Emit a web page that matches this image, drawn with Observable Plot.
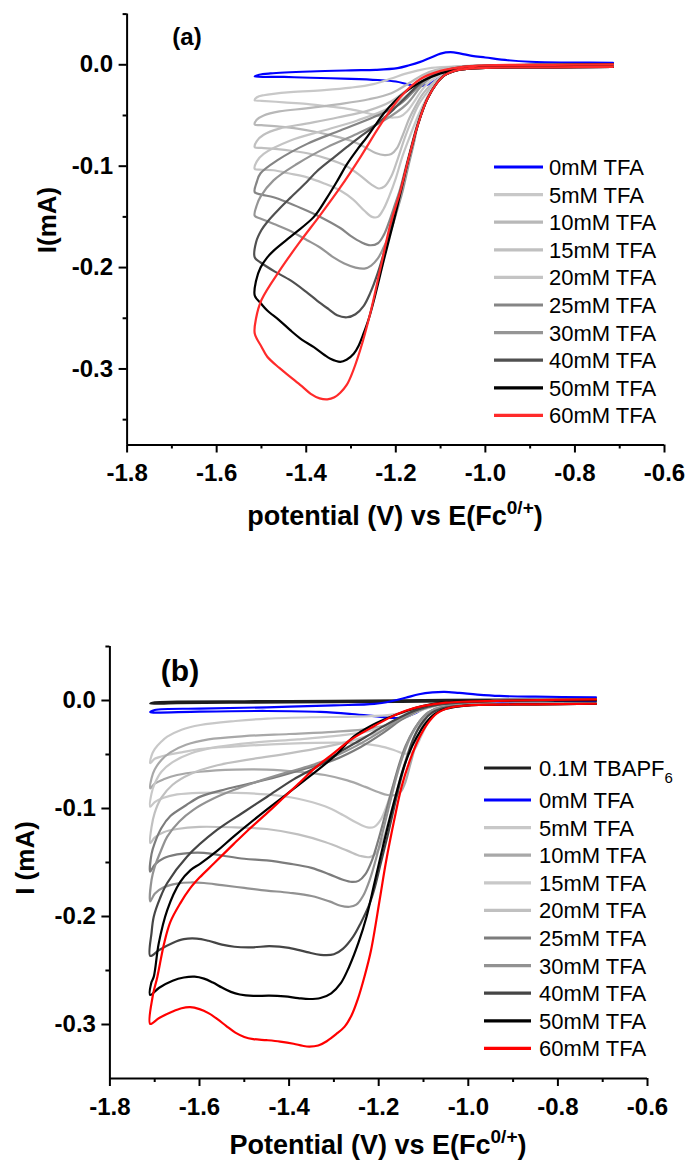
<!DOCTYPE html>
<html><head><meta charset="utf-8">
<script src="https://cdn.jsdelivr.net/npm/d3@7"></script>
<script src="https://cdn.jsdelivr.net/npm/@observablehq/plot@0.6"></script>
<style>
html,body{margin:0;padding:0;background:#fff;}
#wrap{position:relative;width:688px;height:1162px;overflow:hidden;background:#fff;}
#wrap svg{position:absolute;left:0;}
</style></head><body><div id="wrap"></div>
<script>
// ---------- tick values ----------
const xMajor = [-1.8,-1.6,-1.4,-1.2,-1.0,-0.8,-0.6];
const xMinor = [-1.7,-1.5,-1.3,-1.1,-0.9,-0.7];
const yMajor = [0,-0.1,-0.2,-0.3];
const yMinorA = [0.05,-0.05,-0.15,-0.25,-0.35];
const yMinorB = [0.05,-0.05,-0.15,-0.25];

// ---------- legend labels / colours ----------
const labelsA = ["0mM TFA","5mM TFA","10mM TFA","15mM TFA","20mM TFA","25mM TFA","30mM TFA","40mM TFA","50mM TFA","60mM TFA"];
const colorsA = ["#0000ff","#c8c8c8","#b8b8b8","#c0c0c0","#c4c4c4","#858585","#959595","#505050","#000000","#ff2a2a"];
const labelsB = ["0.1M TBAPF6","0mM TFA","5mM TFA","10mM TFA","15mM TFA","20mM TFA","25mM TFA","30mM TFA","40mM TFA","50mM TFA","60mM TFA"];
const colorsB = ["#1e1e1e","#0000ff","#c8c8c8","#a8a8a8","#c8c8c8","#c0c0c0","#7c7c7c","#929292","#454545","#000000","#ff0000"];

// ---------- panel (a) curves: [E (V), I (mA)] ; fwd = from switching point towards -0.715, rev = return sweep ----------
const a00 = {fwd:[[-1.515,-0.0115],[-1.45,-0.012],[-1.39,-0.0128],[-1.30,-0.0138],[-1.24,-0.015],[-1.20,-0.0165],[-1.17,-0.0195],[-1.145,-0.021],[-1.125,-0.019],[-1.105,-0.0135],[-1.085,-0.0075],[-1.06,-0.0035],[-1.02,-0.0015],[-0.95,-0.0005],[-0.85,0],[-0.715,0]],
             rev:[[-1.515,-0.0115],[-1.505,-0.0098],[-1.48,-0.0085],[-1.39,-0.0066],[-1.30,-0.0055],[-1.245,-0.005],[-1.196,-0.0033],[-1.17,-0.0005],[-1.147,0.0026],[-1.12,0.0075],[-1.10,0.011],[-1.078,0.0124],[-1.055,0.011],[-1.03,0.0088],[-1.0,0.0072],[-0.95,0.0045],[-0.90,0.003],[-0.80,0.0022],[-0.715,0.002]]};
const a05 = {fwd:[[-1.515,-0.035],[-1.50,-0.0355],[-1.45,-0.037],[-1.40,-0.0385],[-1.35,-0.041],[-1.30,-0.044],[-1.26,-0.048],[-1.23,-0.051],[-1.205,-0.052],[-1.19,-0.051],[-1.175,-0.046],[-1.16,-0.037],[-1.145,-0.027],[-1.13,-0.019],[-1.11,-0.012],[-1.09,-0.007],[-1.06,-0.004],[-1.0,-0.003],[-0.85,-0.0025],[-0.715,-0.002]],
             rev:[[-1.515,-0.035],[-1.51,-0.032],[-1.495,-0.030],[-1.435,-0.027],[-1.36,-0.025],[-1.30,-0.0225],[-1.25,-0.019],[-1.21,-0.0135],[-1.18,-0.009],[-1.15,-0.0055],[-1.12,-0.003],[-1.05,-0.0012],[-1.0,-0.0005],[-0.85,0],[-0.715,0.0005]]};
const a10 = {fwd:[[-1.515,-0.0589],[-1.50,-0.0595],[-1.46,-0.061],[-1.42,-0.063],[-1.38,-0.066],[-1.34,-0.070],[-1.30,-0.075],[-1.27,-0.081],[-1.245,-0.087],[-1.225,-0.089],[-1.21,-0.088],[-1.197,-0.082],[-1.185,-0.07],[-1.17,-0.053],[-1.155,-0.04],[-1.14,-0.029],[-1.12,-0.019],[-1.10,-0.012],[-1.08,-0.007],[-1.05,-0.004],[-1.0,-0.003],[-0.85,-0.0025],[-0.715,-0.002]],
             rev:[[-1.515,-0.0589],[-1.51,-0.054],[-1.495,-0.050],[-1.46,-0.046],[-1.40,-0.043],[-1.33,-0.039],[-1.26,-0.034],[-1.21,-0.028],[-1.17,-0.018],[-1.14,-0.010],[-1.11,-0.005],[-1.07,-0.002],[-1.0,-0.001],[-0.85,0],[-0.715,0.0005]]};
const a15 = {fwd:[[-1.515,-0.0812],[-1.50,-0.082],[-1.47,-0.083],[-1.43,-0.085],[-1.39,-0.088],[-1.35,-0.093],[-1.31,-0.1],[-1.28,-0.109],[-1.255,-0.118],[-1.238,-0.122],[-1.225,-0.12],[-1.21,-0.11],[-1.195,-0.092],[-1.18,-0.072],[-1.165,-0.055],[-1.15,-0.04],[-1.13,-0.027],[-1.11,-0.016],[-1.09,-0.009],[-1.06,-0.005],[-1.0,-0.003],[-0.85,-0.0025],[-0.715,-0.002]],
             rev:[[-1.515,-0.0812],[-1.51,-0.075],[-1.495,-0.069],[-1.46,-0.063],[-1.40,-0.058],[-1.33,-0.052],[-1.26,-0.045],[-1.21,-0.036],[-1.17,-0.023],[-1.14,-0.013],[-1.11,-0.006],[-1.07,-0.003],[-1.0,-0.001],[-0.85,0],[-0.715,0.0005]]};
const a20 = {fwd:[[-1.515,-0.1026],[-1.50,-0.1035],[-1.473,-0.104],[-1.44,-0.107],[-1.398,-0.111],[-1.36,-0.117],[-1.324,-0.124],[-1.295,-0.133],[-1.27,-0.144],[-1.253,-0.150],[-1.24,-0.150],[-1.227,-0.142],[-1.215,-0.13],[-1.20,-0.112],[-1.185,-0.09],[-1.168,-0.07],[-1.15,-0.05],[-1.13,-0.032],[-1.11,-0.018],[-1.09,-0.010],[-1.06,-0.005],[-1.0,-0.003],[-0.85,-0.0025],[-0.715,-0.002]],
             rev:[[-1.515,-0.1026],[-1.51,-0.095],[-1.495,-0.0878],[-1.435,-0.0746],[-1.361,-0.0648],[-1.286,-0.0549],[-1.212,-0.0418],[-1.16,-0.025],[-1.13,-0.014],[-1.10,-0.007],[-1.05,-0.002],[-1.0,-0.001],[-0.85,0],[-0.715,0.0005]]};
const a25 = {fwd:[[-1.515,-0.1256],[-1.50,-0.128],[-1.473,-0.1306],[-1.44,-0.136],[-1.398,-0.144],[-1.36,-0.152],[-1.324,-0.161],[-1.30,-0.169],[-1.277,-0.175],[-1.257,-0.178],[-1.24,-0.176],[-1.227,-0.168],[-1.215,-0.155],[-1.205,-0.142],[-1.19,-0.122],[-1.18,-0.105],[-1.168,-0.085],[-1.15,-0.056],[-1.13,-0.034],[-1.11,-0.019],[-1.09,-0.010],[-1.06,-0.005],[-1.0,-0.003],[-0.85,-0.0025],[-0.715,-0.002]],
             rev:[[-1.515,-0.1256],[-1.51,-0.115],[-1.502,-0.107],[-1.465,-0.0943],[-1.398,-0.078],[-1.324,-0.0648],[-1.249,-0.0516],[-1.19,-0.0385],[-1.16,-0.026],[-1.135,-0.015],[-1.11,-0.009],[-1.08,-0.005],[-1.05,-0.002],[-1.0,-0.001],[-0.85,0],[-0.715,0.0005]]};
const a30 = {fwd:[[-1.515,-0.149],[-1.50,-0.152],[-1.472,-0.157],[-1.44,-0.163],[-1.398,-0.173],[-1.37,-0.180],[-1.339,-0.190],[-1.315,-0.196],[-1.29,-0.2],[-1.27,-0.201],[-1.255,-0.198],[-1.24,-0.191],[-1.227,-0.18],[-1.212,-0.165],[-1.20,-0.148],[-1.185,-0.125],[-1.172,-0.1],[-1.16,-0.078],[-1.15,-0.058],[-1.13,-0.034],[-1.11,-0.019],[-1.09,-0.010],[-1.06,-0.005],[-1.0,-0.003],[-0.85,-0.0025],[-0.715,-0.002]],
             rev:[[-1.515,-0.149],[-1.51,-0.138],[-1.502,-0.130],[-1.473,-0.114],[-1.42,-0.0976],[-1.353,-0.0812],[-1.286,-0.068],[-1.227,-0.055],[-1.175,-0.0385],[-1.145,-0.022],[-1.12,-0.012],[-1.10,-0.007],[-1.05,-0.002],[-1.0,-0.001],[-0.85,0],[-0.715,0.0005]]};
const a40 = {fwd:[[-1.515,-0.19],[-1.502,-0.195],[-1.47,-0.204],[-1.435,-0.2127],[-1.40,-0.224],[-1.376,-0.2325],[-1.35,-0.241],[-1.331,-0.247],[-1.309,-0.249],[-1.29,-0.246],[-1.272,-0.238],[-1.257,-0.225],[-1.24,-0.205],[-1.225,-0.183],[-1.21,-0.158],[-1.19,-0.125],[-1.17,-0.09],[-1.15,-0.058],[-1.13,-0.034],[-1.11,-0.019],[-1.09,-0.010],[-1.06,-0.005],[-1.0,-0.003],[-0.85,-0.0025],[-0.715,-0.002]],
             rev:[[-1.515,-0.19],[-1.512,-0.175],[-1.50,-0.163],[-1.487,-0.155],[-1.46,-0.142],[-1.435,-0.131],[-1.40,-0.116],[-1.376,-0.105],[-1.34,-0.092],[-1.309,-0.081],[-1.28,-0.071],[-1.249,-0.061],[-1.225,-0.052],[-1.205,-0.044],[-1.18,-0.033],[-1.16,-0.024],[-1.14,-0.016],[-1.12,-0.011],[-1.10,-0.007],[-1.05,-0.002],[-1.0,-0.001],[-0.85,0],[-0.715,0.0005]]};
const a50 = {fwd:[[-1.515,-0.2275],[-1.50,-0.236],[-1.487,-0.2423],[-1.46,-0.252],[-1.435,-0.262],[-1.41,-0.271],[-1.383,-0.2785],[-1.36,-0.286],[-1.346,-0.290],[-1.324,-0.293],[-1.31,-0.291],[-1.294,-0.285],[-1.283,-0.277],[-1.272,-0.265],[-1.26,-0.25],[-1.249,-0.2325],[-1.227,-0.193],[-1.205,-0.155],[-1.19,-0.127],[-1.17,-0.09],[-1.15,-0.058],[-1.13,-0.034],[-1.11,-0.019],[-1.09,-0.010],[-1.06,-0.005],[-1.0,-0.003],[-0.85,-0.0025],[-0.715,-0.002]],
             rev:[[-1.515,-0.2275],[-1.512,-0.213],[-1.502,-0.20],[-1.487,-0.19],[-1.472,-0.183],[-1.428,-0.167],[-1.383,-0.150],[-1.355,-0.132],[-1.33,-0.114],[-1.309,-0.098],[-1.285,-0.083],[-1.264,-0.071],[-1.245,-0.059],[-1.227,-0.048],[-1.20,-0.035],[-1.182,-0.028],[-1.16,-0.021],[-1.138,-0.0155],[-1.10,-0.0085],[-1.05,-0.003],[-1.0,-0.001],[-0.85,0],[-0.715,0.0005]]};
const a60 = {fwd:[[-1.515,-0.265],[-1.50,-0.278],[-1.487,-0.288],[-1.46,-0.299],[-1.435,-0.308],[-1.41,-0.317],[-1.39,-0.3245],[-1.37,-0.329],[-1.353,-0.330],[-1.337,-0.328],[-1.324,-0.3235],[-1.31,-0.316],[-1.30,-0.307],[-1.28,-0.282],[-1.257,-0.245],[-1.234,-0.20],[-1.212,-0.157],[-1.19,-0.125],[-1.17,-0.09],[-1.15,-0.058],[-1.13,-0.034],[-1.11,-0.019],[-1.09,-0.010],[-1.06,-0.005],[-1.0,-0.003],[-0.85,-0.0025],[-0.715,-0.002]],
             rev:[[-1.515,-0.265],[-1.512,-0.25],[-1.50,-0.232],[-1.458,-0.202],[-1.413,-0.174],[-1.37,-0.149],[-1.324,-0.121],[-1.279,-0.091],[-1.234,-0.059],[-1.19,-0.032],[-1.145,-0.014],[-1.10,-0.006],[-1.05,-0.002],[-1.0,-0.0005],[-0.85,0],[-0.715,0.0005]]};

// ---------- panel (b) curves ----------
const b0T = {fwd:[[-1.71,-0.0028],[-1.65,-0.0025],[-1.5,-0.002],[-1.3,-0.0015],[-1.15,-0.0012],[-1.05,-0.0008],[-0.9,-0.0006],[-0.715,-0.0005]],
             rev:[[-1.71,-0.0028],[-1.70,-0.0016],[-1.65,-0.0011],[-1.5,-0.0007],[-1.3,-0.0003],[-1.15,0.0001],[-1.05,0.0006],[-0.9,0.0008],[-0.715,0.001]]};
const b00 = {fwd:[[-1.71,-0.0108],[-1.70,-0.0112],[-1.6,-0.0103],[-1.45,-0.0097],[-1.33,-0.0105],[-1.26,-0.0125],[-1.21,-0.0145],[-1.17,-0.0162],[-1.145,-0.0158],[-1.12,-0.012],[-1.10,-0.0075],[-1.07,-0.0042],[-1.03,-0.0028],[-0.95,-0.0024],[-0.85,-0.0022],[-0.715,-0.002]],
             rev:[[-1.71,-0.0108],[-1.70,-0.0088],[-1.6,-0.0075],[-1.45,-0.0063],[-1.30,-0.0045],[-1.21,-0.0032],[-1.17,-0.0005],[-1.14,0.0025],[-1.11,0.0058],[-1.08,0.0075],[-1.053,0.008],[-1.02,0.007],[-0.98,0.0055],[-0.93,0.0042],[-0.85,0.0035],[-0.715,0.003]]};
const b05 = {fwd:[[-1.71,-0.058],[-1.70,-0.054],[-1.672,-0.0505],[-1.64,-0.048],[-1.60,-0.045],[-1.50,-0.042],[-1.40,-0.040],[-1.30,-0.039],[-1.25,-0.0395],[-1.20,-0.042],[-1.165,-0.046],[-1.145,-0.049],[-1.13,-0.049],[-1.118,-0.044],[-1.105,-0.033],[-1.09,-0.02],[-1.075,-0.011],[-1.055,-0.006],[-1.02,-0.004],[-0.95,-0.003],[-0.85,-0.0028],[-0.715,-0.0025]],
             rev:[[-1.71,-0.058],[-1.707,-0.051],[-1.70,-0.045],[-1.685,-0.038],[-1.672,-0.0335],[-1.64,-0.027],[-1.598,-0.0227],[-1.52,-0.019],[-1.449,-0.0168],[-1.35,-0.0155],[-1.25,-0.015],[-1.18,-0.0135],[-1.14,-0.011],[-1.10,-0.0065],[-1.06,-0.003],[-1.0,-0.0012],[-0.9,0],[-0.715,0.001]]};
const b10 = {fwd:[[-1.71,-0.0813],[-1.70,-0.077],[-1.68,-0.073],[-1.65,-0.069],[-1.60,-0.066],[-1.52,-0.064],[-1.45,-0.064],[-1.38,-0.066],[-1.32,-0.069],[-1.27,-0.074],[-1.23,-0.080],[-1.20,-0.085],[-1.18,-0.0875],[-1.163,-0.0875],[-1.15,-0.084],[-1.14,-0.075],[-1.13,-0.06],[-1.118,-0.042],[-1.105,-0.026],[-1.09,-0.014],[-1.07,-0.008],[-1.04,-0.005],[-0.95,-0.0035],[-0.85,-0.003],[-0.715,-0.0025]],
             rev:[[-1.71,-0.0813],[-1.707,-0.072],[-1.70,-0.064],[-1.685,-0.055],[-1.665,-0.048],[-1.63,-0.041],[-1.58,-0.036],[-1.50,-0.033],[-1.40,-0.031],[-1.30,-0.029],[-1.22,-0.026],[-1.17,-0.021],[-1.13,-0.014],[-1.10,-0.008],[-1.06,-0.004],[-1.0,-0.0015],[-0.9,0],[-0.715,0.001]]};
const b15 = {fwd:[[-1.71,-0.0983],[-1.70,-0.094],[-1.68,-0.090],[-1.65,-0.087],[-1.60,-0.0855],[-1.52,-0.0855],[-1.45,-0.087],[-1.38,-0.091],[-1.32,-0.098],[-1.28,-0.106],[-1.25,-0.113],[-1.225,-0.1175],[-1.21,-0.117],[-1.195,-0.11],[-1.18,-0.095],[-1.165,-0.075],[-1.15,-0.056],[-1.135,-0.04],[-1.12,-0.027],[-1.10,-0.016],[-1.08,-0.009],[-1.05,-0.0055],[-1.0,-0.004],[-0.85,-0.003],[-0.715,-0.0025]],
             rev:[[-1.71,-0.0983],[-1.707,-0.086],[-1.70,-0.077],[-1.685,-0.066],[-1.66,-0.057],[-1.62,-0.049],[-1.56,-0.043],[-1.48,-0.039],[-1.38,-0.036],[-1.30,-0.033],[-1.23,-0.029],[-1.18,-0.023],[-1.14,-0.015],[-1.10,-0.008],[-1.06,-0.004],[-1.0,-0.0015],[-0.9,0],[-0.715,0.001]]};
const b20 = {fwd:[[-1.71,-0.132],[-1.70,-0.127],[-1.68,-0.122],[-1.65,-0.119],[-1.60,-0.117],[-1.52,-0.1175],[-1.45,-0.119],[-1.38,-0.124],[-1.32,-0.131],[-1.27,-0.139],[-1.24,-0.144],[-1.22,-0.145],[-1.205,-0.141],[-1.19,-0.128],[-1.175,-0.108],[-1.16,-0.085],[-1.145,-0.062],[-1.13,-0.043],[-1.115,-0.028],[-1.10,-0.017],[-1.08,-0.009],[-1.05,-0.0055],[-1.0,-0.004],[-0.85,-0.003],[-0.715,-0.0025]],
             rev:[[-1.71,-0.132],[-1.707,-0.117],[-1.70,-0.104],[-1.685,-0.09],[-1.66,-0.078],[-1.62,-0.068],[-1.56,-0.06],[-1.48,-0.054],[-1.40,-0.049],[-1.32,-0.043],[-1.25,-0.036],[-1.19,-0.027],[-1.15,-0.017],[-1.11,-0.009],[-1.07,-0.004],[-1.0,-0.0015],[-0.9,0],[-0.715,0.001]]};
const b25 = {fwd:[[-1.71,-0.1585],[-1.70,-0.152],[-1.68,-0.146],[-1.65,-0.1425],[-1.62,-0.141],[-1.59,-0.141],[-1.55,-0.1435],[-1.50,-0.1465],[-1.45,-0.148],[-1.40,-0.151],[-1.35,-0.155],[-1.31,-0.161],[-1.28,-0.166],[-1.26,-0.168],[-1.245,-0.167],[-1.23,-0.161],[-1.215,-0.148],[-1.20,-0.128],[-1.185,-0.105],[-1.17,-0.082],[-1.155,-0.06],[-1.14,-0.042],[-1.12,-0.026],[-1.10,-0.015],[-1.08,-0.009],[-1.05,-0.0055],[-1.0,-0.004],[-0.85,-0.003],[-0.715,-0.0025]],
             rev:[[-1.71,-0.1585],[-1.707,-0.142],[-1.70,-0.132],[-1.685,-0.118],[-1.665,-0.107],[-1.63,-0.097],[-1.598,-0.089],[-1.54,-0.082],[-1.486,-0.0767],[-1.43,-0.071],[-1.375,-0.0644],[-1.30,-0.055],[-1.24,-0.043],[-1.19,-0.03],[-1.15,-0.018],[-1.11,-0.009],[-1.07,-0.004],[-1.0,-0.0015],[-0.9,0],[-0.715,0.001]]};
const b30 = {fwd:[[-1.71,-0.186],[-1.70,-0.179],[-1.68,-0.173],[-1.65,-0.1695],[-1.62,-0.1685],[-1.59,-0.169],[-1.55,-0.171],[-1.50,-0.1735],[-1.45,-0.176],[-1.40,-0.178],[-1.35,-0.181],[-1.31,-0.186],[-1.285,-0.19],[-1.265,-0.191],[-1.25,-0.189],[-1.235,-0.181],[-1.22,-0.166],[-1.205,-0.145],[-1.19,-0.12],[-1.175,-0.095],[-1.16,-0.07],[-1.145,-0.05],[-1.13,-0.034],[-1.11,-0.02],[-1.09,-0.011],[-1.06,-0.0065],[-1.0,-0.004],[-0.85,-0.003],[-0.715,-0.0025]],
             rev:[[-1.71,-0.186],[-1.707,-0.166],[-1.70,-0.154],[-1.685,-0.138],[-1.672,-0.126],[-1.645,-0.112],[-1.613,-0.101],[-1.57,-0.091],[-1.524,-0.0829],[-1.47,-0.075],[-1.412,-0.0675],[-1.35,-0.06],[-1.30,-0.052],[-1.25,-0.042],[-1.20,-0.03],[-1.16,-0.019],[-1.12,-0.01],[-1.08,-0.005],[-1.0,-0.0015],[-0.9,0],[-0.715,0.001]]};
const b40 = {fwd:[[-1.71,-0.2365],[-1.69,-0.231],[-1.66,-0.2245],[-1.635,-0.221],[-1.606,-0.2205],[-1.58,-0.2225],[-1.55,-0.226],[-1.522,-0.228],[-1.48,-0.2285],[-1.444,-0.2275],[-1.40,-0.229],[-1.36,-0.233],[-1.33,-0.2355],[-1.30,-0.235],[-1.28,-0.23],[-1.257,-0.2187],[-1.24,-0.206],[-1.222,-0.19],[-1.21,-0.175],[-1.195,-0.15],[-1.18,-0.125],[-1.165,-0.098],[-1.15,-0.072],[-1.135,-0.05],[-1.12,-0.033],[-1.10,-0.019],[-1.08,-0.011],[-1.05,-0.0065],[-1.0,-0.0045],[-0.85,-0.0035],[-0.715,-0.003]],
             rev:[[-1.71,-0.2365],[-1.707,-0.215],[-1.702,-0.20],[-1.688,-0.183],[-1.672,-0.169],[-1.628,-0.1446],[-1.561,-0.1199],[-1.50,-0.103],[-1.449,-0.0891],[-1.39,-0.073],[-1.338,-0.0613],[-1.28,-0.046],[-1.23,-0.034],[-1.19,-0.024],[-1.15,-0.015],[-1.11,-0.008],[-1.07,-0.004],[-1.0,-0.0015],[-0.9,0],[-0.715,0.001]]};
const b50 = {fwd:[[-1.71,-0.2727],[-1.69,-0.266],[-1.66,-0.2595],[-1.635,-0.2565],[-1.611,-0.2557],[-1.59,-0.2575],[-1.57,-0.2612],[-1.55,-0.2658],[-1.53,-0.2698],[-1.51,-0.2722],[-1.48,-0.2735],[-1.444,-0.2733],[-1.41,-0.274],[-1.38,-0.2755],[-1.355,-0.2764],[-1.33,-0.2755],[-1.306,-0.2711],[-1.285,-0.262],[-1.266,-0.2465],[-1.245,-0.224],[-1.227,-0.20],[-1.21,-0.17],[-1.195,-0.143],[-1.18,-0.117],[-1.162,-0.088],[-1.145,-0.063],[-1.125,-0.042],[-1.105,-0.027],[-1.085,-0.016],[-1.06,-0.009],[-1.03,-0.006],[-1.0,-0.0045],[-0.85,-0.0035],[-0.715,-0.003]],
             rev:[[-1.71,-0.2727],[-1.708,-0.262],[-1.702,-0.2557],[-1.691,-0.2249],[-1.672,-0.194],[-1.643,-0.168],[-1.62,-0.157],[-1.598,-0.151],[-1.56,-0.139],[-1.524,-0.126],[-1.45,-0.101],[-1.375,-0.077],[-1.30,-0.052],[-1.256,-0.0335],[-1.22,-0.024],[-1.181,-0.0165],[-1.14,-0.01],[-1.107,-0.0057],[-1.06,-0.002],[-1.033,-0.0011],[-0.9,0],[-0.715,0.0005]]};
const b60 = {fwd:[[-1.71,-0.2995],[-1.69,-0.294],[-1.66,-0.288],[-1.64,-0.285],[-1.621,-0.284],[-1.60,-0.2858],[-1.58,-0.2895],[-1.56,-0.295],[-1.54,-0.3015],[-1.52,-0.3075],[-1.50,-0.3115],[-1.48,-0.3135],[-1.45,-0.3145],[-1.42,-0.3158],[-1.39,-0.3178],[-1.37,-0.3197],[-1.355,-0.3205],[-1.335,-0.3195],[-1.316,-0.3155],[-1.295,-0.309],[-1.276,-0.302],[-1.26,-0.291],[-1.247,-0.277],[-1.232,-0.256],[-1.217,-0.231],[-1.198,-0.185],[-1.184,-0.15],[-1.165,-0.11],[-1.149,-0.08],[-1.13,-0.055],[-1.11,-0.035],[-1.09,-0.021],[-1.07,-0.012],[-1.04,-0.0065],[-1.0,-0.0045],[-0.85,-0.0035],[-0.715,-0.003]],
             rev:[[-1.71,-0.2995],[-1.705,-0.275],[-1.694,-0.2557],[-1.679,-0.2249],[-1.665,-0.205],[-1.643,-0.1878],[-1.621,-0.174],[-1.60,-0.164],[-1.568,-0.151],[-1.524,-0.133],[-1.494,-0.121],[-1.45,-0.1045],[-1.412,-0.0898],[-1.375,-0.0755],[-1.345,-0.0635],[-1.301,-0.049],[-1.263,-0.0366],[-1.22,-0.026],[-1.181,-0.017],[-1.14,-0.0095],[-1.10,-0.005],[-1.05,-0.002],[-1.0,-0.001],[-0.9,0],[-0.715,0.001]]};

const seriesA = [a00,a05,a10,a15,a20,a25,a30,a40,a50,a60];
const seriesB = [b0T,b00,b05,b10,b15,b20,b25,b30,b40,b50,b60];

// ---------- helpers ----------
const FONT = "'Liberation Sans', Arial, Helvetica, sans-serif";
function loop(c){ return [...c.fwd].reverse().concat(c.rev.slice(1)).map(([V,I]) => ({V, I})); }
const fmt = d => d.toFixed(1);

function makePanel(cfg){
  const marks = [
    Plot.ruleX([cfg.xDomain[0]], {stroke:"#000", strokeWidth:2}),
    Plot.ruleY([cfg.yDomain[0]], {stroke:"#000", strokeWidth:2}),
    Plot.axisX({ticks:xMajor, tickSize:8, tickPadding:11, tickFormat:fmt, fontSize:24, fontWeight:"bold", label:null, strokeWidth:2}),
    Plot.axisX({ticks:xMinor, tickSize:4, tickFormat:()=>"", label:null, strokeWidth:2}),
    Plot.axisY({ticks:yMajor, tickSize:8, tickPadding:6, tickFormat:fmt, fontSize:24, fontWeight:"bold", label:null, strokeWidth:2}),
    Plot.axisY({ticks:cfg.yMinor, tickSize:4, tickFormat:()=>"", label:null, strokeWidth:2})
  ];
  cfg.series.forEach((s, i) => {
    marks.push(Plot.line(loop(s), {x:"V", y:"I", stroke:cfg.colors[i], strokeWidth:2.2, curve:"catmull-rom"}));
  });
  return Plot.plot({
    width:688, height:cfg.height,
    marginTop:cfg.mt, marginBottom:cfg.mb, marginLeft:cfg.ml, marginRight:cfg.mr,
    x:{domain:cfg.xDomain}, y:{domain:cfg.yDomain},
    style:{fontFamily:FONT, color:"#000", background:"transparent", overflow:"visible"},
    marks
  });
}

function addLegend(svg, labels, colors, rows, x1, x2, xt){
  const g = d3.select(svg).append("g").attr("text-anchor","start");
  labels.forEach((lab, i) => {
    const y = rows(i);
    g.append("line").attr("x1",x1).attr("x2",x2).attr("y1",y).attr("y2",y)
      .attr("stroke",colors[i]).attr("stroke-width",3.2);
    const t = g.append("text").attr("x",xt).attr("y",y).attr("dy","0.36em").attr("text-anchor","start")
      .attr("font-family",FONT).attr("font-size",22).attr("fill","#000");
    const m = lab.match(/^(.*TBAPF)(6)$/);
    if (m) {
      t.append("tspan").text(m[1]);
      t.append("tspan").attr("font-size",15).attr("dy",7).text(m[2]);
    } else t.text(lab);
  });
}

function addXTitle(svg, first, x, y){
  const t = d3.select(svg).append("text").attr("x",x).attr("y",y).attr("text-anchor","middle")
    .attr("font-family",FONT).attr("font-weight","bold").attr("font-size",27).attr("fill","#000");
  t.append("tspan").text(first);
  t.append("tspan").attr("font-size",19).attr("dy",-11).text("0/+");
  t.append("tspan").attr("dy",11).text(")");
}
function addYTitle(svg, txt, x, y){
  d3.select(svg).append("text").attr("transform",`translate(${x},${y}) rotate(-90)`)
    .attr("text-anchor","middle").attr("dy","0.36em")
    .attr("font-family",FONT).attr("font-weight","bold").attr("font-size",26).attr("fill","#000").text(txt);
}
function addTag(svg, txt, x, y, size){
  d3.select(svg).append("text").attr("x",x).attr("y",y).attr("text-anchor","middle").attr("dy","0.36em")
    .attr("font-family",FONT).attr("font-weight","bold").attr("font-size",size).attr("fill","#000").text(txt);
}

// ---------- panel (a) ----------
const svgA = makePanel({series:seriesA, colors:colorsA, xDomain:[-1.8,-0.6], yDomain:[-0.375,0.05], yMinor:yMinorA,
  height:560, mt:13.6, mb:115.5, ml:126.6, mr:24});
svgA.style.top = "0px";
addLegend(svgA, labelsA, colorsA, i => 167 + 27.6*i, 494, 543, 549);
addXTitle(svgA, "potential (V) vs E(Fc", 395, 525);
addYTitle(svgA, "I(mA)", 47, 220);
addTag(svgA, "(a)", 187, 36, 24);

// ---------- panel (b) ----------
const TOPB = 600;
const svgB = makePanel({series:seriesB, colors:colorsB, xDomain:[-1.8,-0.6], yDomain:[-0.35,0.05], yMinor:yMinorB,
  height:562, mt:46, mb:84, ml:109.4, mr:41});
svgB.style.top = TOPB + "px";
addLegend(svgB, labelsB, colorsB, i => (i === 0 ? 768 : 800 + 27.6*(i-1)) - TOPB, 484, 531, 539);
addXTitle(svgB, "Potential (V) vs E(Fc", 378, 1154 - TOPB);
addYTitle(svgB, "I (mA)", 25, 858 - TOPB);
addTag(svgB, "(b)", 180, 670 - TOPB, 30);

const wrap = document.getElementById("wrap");
wrap.appendChild(svgA);
wrap.appendChild(svgB);
</script></body></html>
